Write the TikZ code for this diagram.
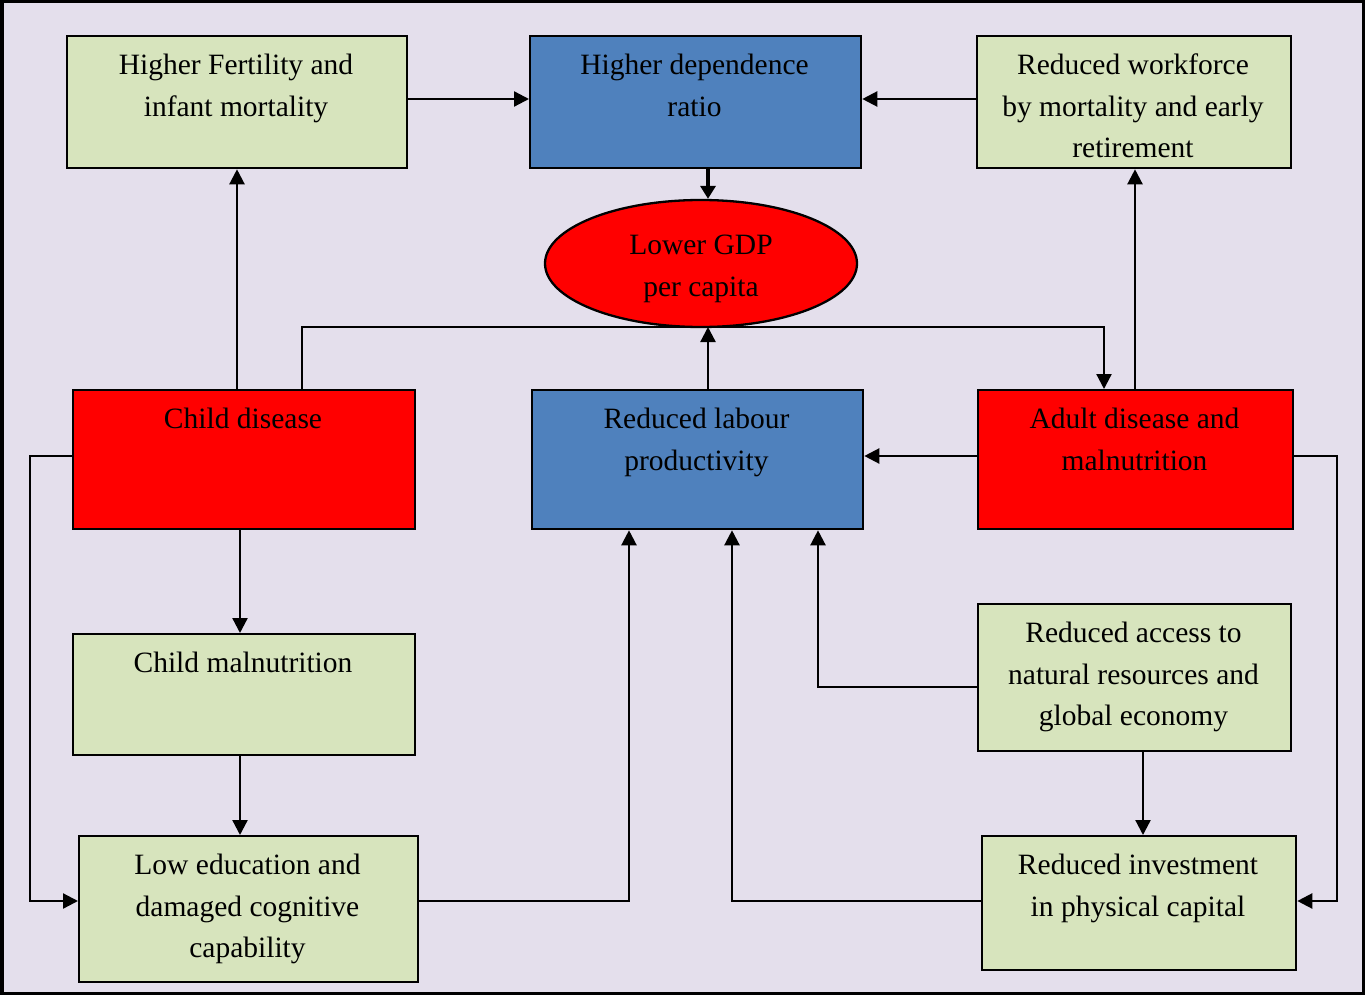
\documentclass[tikz,border=0pt]{standalone}
\usepackage{fontspec}
\setmainfont{Liberation Serif}
\usetikzlibrary{arrows.meta,shapes.geometric}
\definecolor{bgc}{RGB}{228,223,236}
\definecolor{grn}{RGB}{215,228,189}
\definecolor{blu}{RGB}{79,129,189}
\definecolor{rd}{RGB}{255,0,0}
\tikzset{
  box/.style={draw=black,line width=2.3pt,inner sep=0pt,anchor=north west},
  gbox/.style={box,fill=grn},
  bbox/.style={box,fill=blu},
  rbox/.style={box,fill=rd},
  txt/.style={anchor=north,inner sep=0pt,align=center,font=\fontsize{29.5}{41.5}\selectfont},
  conn/.style={line width=2.3pt,-{Triangle[length=15pt,width=15pt]}}
}
\begin{document}
\begin{tikzpicture}[x=1pt,y=-1pt]
\useasboundingbox (0,0) rectangle (1365,995);
\fill[bgc] (0,0) rectangle (1365,995);
\draw[line width=3.5pt] (1.75,1.75) rectangle (1363.25,993.25);

% boxes
\node[gbox,minimum width=340pt,minimum height=132pt] (fert) at (66,35) {};
\node[bbox,minimum width=331pt,minimum height=132pt] (dep) at (529,35) {};
\node[gbox,minimum width=314pt,minimum height=132pt] (work) at (976,35) {};
\node[ellipse,draw=black,line width=2.3pt,fill=rd,minimum width=312pt,minimum height=127pt,inner sep=0pt] (gdp) at (701,263.5) {};
\node[rbox,minimum width=342pt,minimum height=139pt] (cdis) at (72,389) {};
\node[bbox,minimum width=331pt,minimum height=139pt] (lab) at (531,389) {};
\node[rbox,minimum width=315pt,minimum height=139pt] (adis) at (977,389) {};
\node[gbox,minimum width=342pt,minimum height=121pt] (cmal) at (72,633) {};
\node[gbox,minimum width=313pt,minimum height=147pt] (acc) at (977,603) {};
\node[gbox,minimum width=339pt,minimum height=146pt] (edu) at (78,835) {};
\node[gbox,minimum width=314pt,minimum height=134pt] (inv) at (981,835) {};

% texts
\node[txt] (tfert) at (236,54) {Higher Fertility and\\infant mortality};
\node[txt] (tdep) at (694.5,54) {Higher dependence\\ratio};
\node[txt] (twork) at (1133,54) {Reduced workforce\\by mortality and early\\retirement};
\node[txt] (tgdp) at (701,235) {Lower GDP\\per capita};
\node[txt] (tcdis) at (243,408) {Child disease};
\node[txt] (tlab) at (696.5,408) {Reduced labour\\productivity};
\node[txt] (tadis) at (1134.5,408) {Adult disease and\\malnutrition};
\node[txt] (tcmal) at (243,652) {Child malnutrition};
\node[txt] (tacc) at (1133.5,622) {Reduced access to\\natural resources and\\global economy};
\node[txt] (tedu) at (247.5,854) {Low education and\\damaged cognitive\\capability};
\node[txt] (tinv) at (1138,854) {Reduced investment\\in physical capital};

% connectors
\draw[conn] (fert.east |- 0,99) -- (dep.west |- 0,99);
\draw[conn] (work.west |- 0,99) -- (dep.east |- 0,99);
\draw[line width=3.5pt,-{Triangle[length=13pt,width=15pt]}] (dep.south -| 708,0) -- (gdp.north -| 708,0);
\draw[conn] (cdis.north -| 237,0) -- (fert.south -| 237,0);
\coordinate (c1) at (302,327);
\coordinate (c2) at (1104,327);
\draw[conn] (cdis.north -| 302,0) -- (c1) -- (c2) -- (adis.north -| 1104,0);
\draw[conn] (lab.north -| 708,0) -- (708,327);
\draw[conn] (adis.north -| 1135,0) -- (work.south -| 1135,0);
\draw[conn] (adis.west |- 0,456) -- (lab.east |- 0,456);
\coordinate (l1) at (30,456);
\coordinate (l2) at (30,901);
\draw[conn] (cdis.west |- 0,456) -- (l1) -- (l2) -- (edu.west |- 0,901);
\draw[conn] (cdis.south -| 240,0) -- (cmal.north -| 240,0);
\draw[conn] (cmal.south -| 240,0) -- (edu.north -| 240,0);
\coordinate (e1) at (629,901);
\draw[conn] (edu.east |- 0,901) -- (e1) -- (lab.south -| 629,0);
\coordinate (i1) at (732,901);
\draw[conn] (inv.west |- 0,901) -- (i1) -- (lab.south -| 732,0);
\coordinate (a1) at (818,687);
\draw[conn] (acc.west |- 0,687) -- (a1) -- (lab.south -| 818,0);
\draw[conn] (acc.south -| 1143,0) -- (inv.north -| 1143,0);
\coordinate (r1) at (1337,456);
\coordinate (r2) at (1337,901);
\draw[conn] (adis.east |- 0,456) -- (r1) -- (r2) -- (inv.east |- 0,901);
\end{tikzpicture}
\end{document}
